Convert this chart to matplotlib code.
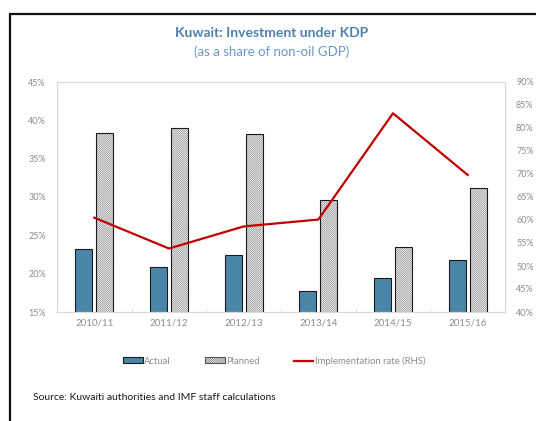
import numpy as np
import matplotlib.pyplot as plt
from matplotlib.patches import Patch, Rectangle
from matplotlib.lines import Line2D
from matplotlib.ticker import PercentFormatter, FixedLocator

plt.rcParams['font.family'] = ['Lato', 'DejaVu Sans']
plt.rcParams['hatch.linewidth'] = 0.4

years = ["2010/11", "2011/12", "2012/13", "2013/14", "2014/15", "2015/16"]
actual = [23.2, 20.9, 22.4, 17.8, 19.5, 21.8]
planned = [38.4, 39.0, 38.2, 29.6, 23.5, 31.2]
impl_rate = [60.5, 53.8, 58.6, 60.1, 83.2, 69.8]

blue = "#4A86A8"
red = "#C00000"
grey_txt = "#8C8C8C"
grid_col = "#D9D9D9"
dense = "\\" * 16

fig = plt.figure(figsize=(5.36, 4.21), dpi=100)
ax = fig.add_axes([57/536, 109/421, 448/536, 230/421])
ax2 = ax.twinx()

x = np.arange(len(years))
w = 0.23
off = 0.14

ax.bar(x - off, actual, w, color=blue, edgecolor="#1a1a1a", linewidth=0.8, zorder=2)
# planned: hatch in grey, then a dark outline on top
ax.bar(x + off, planned, w, color="#f4f4f4", edgecolor="#7a7a7a", hatch=dense, linewidth=0, zorder=2)
ax.bar(x + off, planned, w, color="none", edgecolor="#1a1a1a", linewidth=0.8, zorder=3)

ax2.plot(x, impl_rate, color=red, linewidth=1.6, zorder=4)

ax.set_ylim(15, 45)
ax.set_xlim(-0.5, len(years) - 0.5)
ax.set_yticks(np.arange(15, 46, 5))
ax.yaxis.set_major_formatter(PercentFormatter(decimals=0))
ax2.set_ylim(40, 90)
ax2.set_yticks(np.arange(40, 91, 5))
ax2.yaxis.set_major_formatter(PercentFormatter(decimals=0))

ax.set_xticks(x)
ax.set_xticklabels(years)
ax.xaxis.set_minor_locator(FixedLocator(np.arange(0.5, len(years) - 1, 1)))

for a in (ax, ax2):
    for s in a.spines.values():
        s.set_color(grid_col)
        s.set_linewidth(0.8)
    a.tick_params(axis="y", length=0, labelsize=6.5, labelcolor=grey_txt, pad=8)
ax.tick_params(axis="x", which="major", length=0, labelsize=7, labelcolor=grey_txt, pad=5)
ax.tick_params(axis="x", which="minor", length=3, direction="in", color=grid_col)

fig.text(272/536, 1 - 33/421, "Kuwait: Investment under KDP", ha="center", va="center",
         fontsize=10, fontweight="bold", color="#4F81B0")
fig.text(272/536, 1 - 52/421, "(as a share of non-oil GDP)", ha="center", va="center",
         fontsize=9.5, color="#6A9AC4")

handles = [
    Patch(facecolor=blue, edgecolor="#1a1a1a", linewidth=0.8),
    Patch(facecolor="#f4f4f4", edgecolor="#555555", hatch=dense, linewidth=0.8),
    Line2D([], [], color=red, linewidth=1.6),
]
fig.legend(handles, ["Actual", "Planned", "Implementation rate (RHS)"], loc="center",
           bbox_to_anchor=(274/536, 1 - 361/421), ncol=3, frameon=False, fontsize=6.8,
           labelcolor=grey_txt, handlelength=2.1, handleheight=0.6, handletextpad=0.15,
           columnspacing=3.6)

fig.text(33/536, 1 - 397/421, "Source: Kuwaiti authorities and IMF staff calculations",
         ha="left", va="center", fontsize=7.5, color="#1a1a1a")

# outer frame around the exhibit
fig.add_artist(Rectangle((10/536, -0.05), 1.0, 1 - 14/421 + 0.05, transform=fig.transFigure,
                         fill=False, edgecolor="#111111", linewidth=1.6))

fig.savefig("out.png", dpi=100)
